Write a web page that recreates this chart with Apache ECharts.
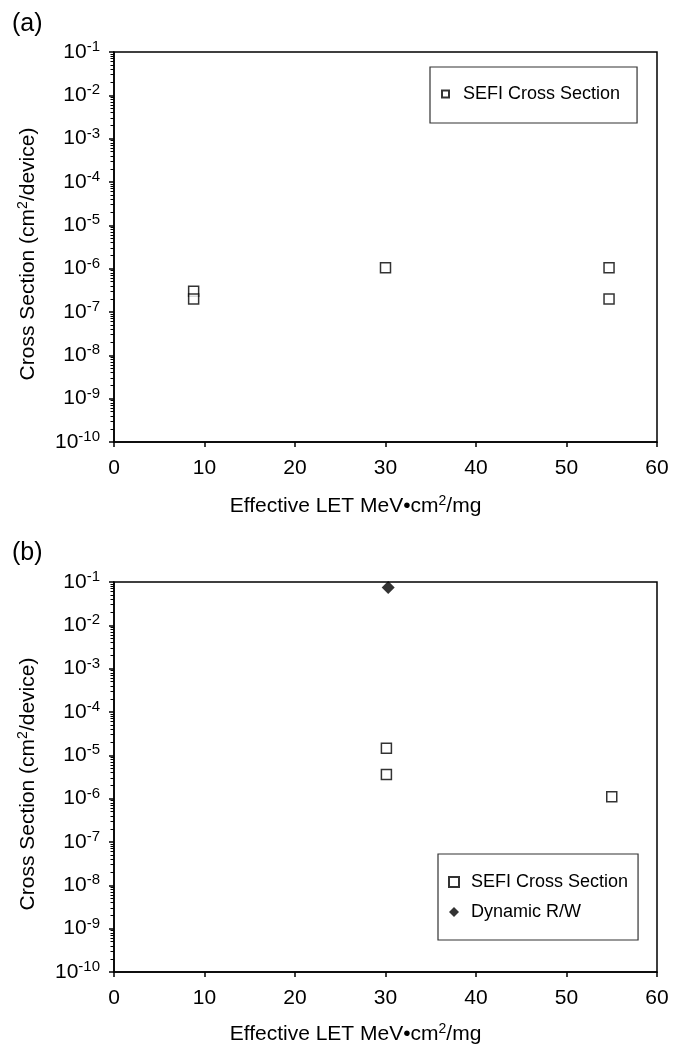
<!DOCTYPE html>
<html><head><meta charset="utf-8">
<script src="https://cdn.jsdelivr.net/npm/echarts@6/dist/echarts.min.js"></script>
<style>html,body{margin:0;padding:0;background:#fff}#c{width:673px;height:1045px}</style>
</head><body><div id="c"></div>
<script>
// Panel (a)
const aSefiLet = [8.8, 8.8, 30.0, 54.7, 54.7];
const aSefiXs  = [3.0e-7, 2.0e-7, 1.05e-6, 1.05e-6, 2.0e-7];
// Panel (b)
const bSefiLet = [30.1, 30.1, 55.0];
const bSefiXs  = [1.45e-5, 3.6e-6, 1.1e-6];
const bDynLet  = [30.3];
const bDynXs   = [7.5e-2];
// axes
const xTicks = [0, 10, 20, 30, 40, 50, 60];
const yExponents = [-10, -9, -8, -7, -6, -5, -4, -3, -2, -1];

const minorVals = [];
for (let e = -10; e < -1; e++) for (let m = 2; m <= 9; m++) minorVals.push(e + Math.log10(m));

const FONT = 'Liberation Sans';
const black = '#000';
const chart = echarts.init(document.getElementById('c'));

const grids = [
  {left: 114, top: 52, width: 543, height: 390},
  {left: 114, top: 582, width: 543, height: 390}
];
const sup = {fontSize: 15, fontFamily: FONT, color: black, padding: [0, 0, 10, 0]};

function xAxisFor(g) {
  return {
    type: 'value', gridIndex: g, position: 'bottom', min: xTicks[0], max: xTicks[xTicks.length - 1], interval: 10,
    axisLine: {show: true, lineStyle: {color: black, width: 1.5}},
    axisTick: {show: true, inside: false, length: 5, lineStyle: {color: black, width: 1.5}},
    splitLine: {show: false},
    axisLabel: {color: black, fontSize: 21, fontFamily: FONT, margin: 16},
    name: 'Effective LET MeV•cm{s|2}/mg', nameLocation: 'middle', nameGap: g === 0 ? 52 : 50,
    nameTextStyle: {color: black, fontSize: 21, fontFamily: FONT, padding: [0, 60, 0, 0],
      rich: {s: {fontSize: 14, fontFamily: FONT, color: black, padding: [0, 0, 10, 0]}}}
  };
}
function yAxesFor(g) {
  return [
    { // data axis (log)
      type: 'log', gridIndex: g, position: 'left', logBase: 10, min: 1e-10, max: 1e-1, show: false,
      splitLine: {show: false}
    },
    { // major ticks + labels (exponent space)
      type: 'value', gridIndex: g, position: 'left', offset: 0,
      min: yExponents[0], max: yExponents[yExponents.length - 1], interval: 1,
      axisLine: {show: true, lineStyle: {color: black, width: 1.5}},
      axisTick: {show: true, length: 5, lineStyle: {color: black, width: 1.5}},
      splitLine: {show: false},
      axisLabel: {color: black, fontSize: 21, fontFamily: FONT, margin: 14,
        formatter: v => '10{s|' + v + '}', rich: {s: sup}},
      name: 'Cross Section (cm{s|2}/device)', nameLocation: 'middle', nameGap: 74, nameRotate: 90,
      nameTextStyle: {color: black, fontSize: 21, fontFamily: FONT, padding: [0, 14, 0, 0],
        rich: {s: {fontSize: 14, fontFamily: FONT, color: black, padding: [0, 0, 10, 0]}}}
    },
    { // minor ticks
      type: 'value', gridIndex: g, position: 'left', offset: 0, min: -10, max: -1,
      axisLine: {show: false},
      axisTick: {show: true, length: 3.5, customValues: minorVals, lineStyle: {color: black, width: 1}},
      axisLabel: {show: false}, splitLine: {show: false}
    }
  ];
}

function pts(xs, ys) { return xs.map((x, i) => [x, ys[i]]); }

const option = {
  backgroundColor: '#fff',
  animation: false,
  textStyle: {fontFamily: FONT},
  title: [
    {text: '(a)', left: 7, top: 7, textStyle: {fontSize: 25, fontWeight: 'normal', color: black, fontFamily: FONT}},
    {text: '(b)', left: 7, top: 536, textStyle: {fontSize: 25, fontWeight: 'normal', color: black, fontFamily: FONT}}
  ],
  grid: grids.map(g => Object.assign({show: true, borderColor: black, borderWidth: 1.5,
    backgroundColor: 'transparent', containLabel: false, outerBoundsMode: 'none'}, g)),
  xAxis: [xAxisFor(0), xAxisFor(1)],
  yAxis: [...yAxesFor(0), ...yAxesFor(1)],
  legend: [
    {left: 430, top: 67, orient: 'vertical', padding: [18, 12, 20, 11], itemGap: 12,
     borderColor: '#333', borderWidth: 1.2, itemWidth: 7, itemHeight: 7,
     textStyle: {fontSize: 18, color: black, fontFamily: FONT, padding: [0, 0, 0, 9]},
     data: [{name: 'SEFI Cross Section ', icon: 'rect'}]},
    {left: 438, top: 854, orient: 'vertical', padding: [19, 10, 19, 10], itemGap: 12,
     borderColor: '#333', borderWidth: 1.2, itemWidth: 10, itemHeight: 10,
     textStyle: {fontSize: 18, color: black, fontFamily: FONT, padding: [0, 0, 0, 7]},
     data: [{name: 'SEFI Cross Section', icon: 'rect'}, {name: 'Dynamic R/W', icon: 'diamond'}]}
  ],
  series: [
    {name: 'SEFI Cross Section ', type: 'scatter', xAxisIndex: 0, yAxisIndex: 0, symbol: 'rect', symbolSize: 10,
     itemStyle: {color: '#fff', borderColor: black, borderWidth: 1.5}, data: pts(aSefiLet, aSefiXs)},
    {name: 'SEFI Cross Section', type: 'scatter', xAxisIndex: 1, yAxisIndex: 3, symbol: 'rect', symbolSize: 10,
     itemStyle: {color: '#fff', borderColor: black, borderWidth: 1.5}, data: pts(bSefiLet, bSefiXs)},
    {name: 'Dynamic R/W', type: 'scatter', xAxisIndex: 1, yAxisIndex: 3, symbol: 'diamond', symbolSize: 13,
     itemStyle: {color: black}, data: pts(bDynLet, bDynXs)}
  ]
};
chart.setOption(option);
</script></body></html>
